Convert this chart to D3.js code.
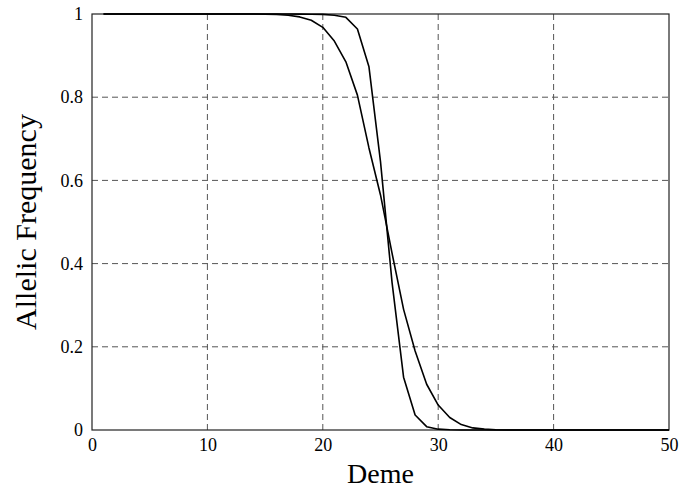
<!DOCTYPE html>
<html><head><meta charset="utf-8">
<script src="https://cdn.jsdelivr.net/npm/d3@7"></script>
<style>body{margin:0;background:#fff}svg{display:block}</style>
</head><body>
<svg id="c" width="691" height="488"></svg>
<script>
const demes = d3.range(1, 51);
const steepValues = [1,1,1,1,1,1,1,1,1,1,1,1,1,1,1,1,1,0.9998,0.9995,0.999,0.997,0.992,0.964,0.873,0.645,0.355,0.127,0.036,0.008,0.002,0.0005,0,0,0,0,0,0,0,0,0,0,0,0,0,0,0,0,0,0,0];
const shallowValues = [1,1,1,1,1,1,1,1,1,1,1,1,1,1,0.9995,0.999,0.997,0.993,0.985,0.968,0.935,0.885,0.805,0.678,0.565,0.425,0.29,0.19,0.11,0.06,0.03,0.013,0.005,0.002,0.0005,0,0,0,0,0,0,0,0,0,0,0,0,0,0,0];
const xTicks = [0,10,20,30,40,50];
const yTicks = [0,0.2,0.4,0.6,0.8,1];
const yTickLabels = ["0","0.2","0.4","0.6","0.8","1"];

const svg = d3.select("#c");
const L = 92, R = 669, T = 14, B = 430;
const x = d3.scaleLinear().domain([0,50]).range([L,R]);
const y = d3.scaleLinear().domain([0,1]).range([B,T]);
const font = "'Liberation Serif','Times New Roman',serif";

// grid
svg.append("g").selectAll("line").data(xTicks.slice(1,-1)).join("line")
  .attr("x1",d=>x(d)).attr("x2",d=>x(d)).attr("y1",T).attr("y2",B)
  .attr("stroke","#555").attr("stroke-width",1).attr("stroke-dasharray","6,4");
svg.append("g").selectAll("line").data(yTicks.slice(1,-1)).join("line")
  .attr("y1",d=>y(d)).attr("y2",d=>y(d)).attr("x1",L).attr("x2",R)
  .attr("stroke","#555").attr("stroke-width",1).attr("stroke-dasharray","6,4");

// axes
const xAxis = d3.axisBottom(x).tickValues(xTicks).tickSize(0).tickPadding(8).tickFormat(d3.format("d"));
const gx = svg.append("g").attr("transform",`translate(0,${B})`).call(xAxis);
gx.attr("font-family",null).attr("font-size",null);
gx.select(".domain").remove();
gx.selectAll("text").style("font-family",font).style("font-size","18px").attr("fill","#000");

const yAxis = d3.axisLeft(y).tickValues(yTicks).tickSize(0).tickPadding(9).tickFormat((d,i)=>yTickLabels[i]);
const gy = svg.append("g").attr("transform",`translate(${L},0)`).call(yAxis);
gy.attr("font-family",null).attr("font-size",null);
gy.select(".domain").remove();
gy.selectAll("text").style("font-family",font).style("font-size","18px").attr("fill","#000");

// frame
svg.append("rect").attr("x",L).attr("y",T).attr("width",R-L).attr("height",B-T)
  .attr("fill","none").attr("stroke","#222").attr("stroke-width",1.2);

// lines
const line = d3.line().x((d,i)=>x(demes[i])).y(d=>y(d));
[steepValues, shallowValues].forEach(vals=>{
  svg.append("path").datum(vals).attr("d",line)
    .attr("fill","none").attr("stroke","#000").attr("stroke-width",1.6).attr("stroke-linejoin","round");
});

// titles
svg.append("text").attr("x",(L+R)/2).attr("y",483).attr("text-anchor","middle")
  .style("font-family",font).style("font-size","28px").text("Deme");
svg.append("text").attr("transform",`translate(36,${(T+B)/2}) rotate(-90)`).attr("text-anchor","middle")
  .style("font-family",font).style("font-size","30px").text("Allelic Frequency");
</script>
</body></html>
